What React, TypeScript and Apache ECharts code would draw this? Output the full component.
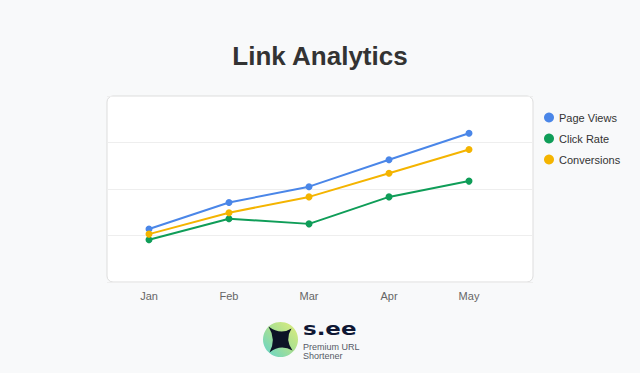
import React, { useEffect, useRef } from "react";
import * as echarts from "echarts";

const categories = ["Jan", "Feb", "Mar", "Apr", "May"];
const pageViews = [114, 171, 205, 263, 320];
const clickRate = [91, 136, 125, 183, 217];
const conversions = [103, 149, 183, 234, 285];
const seriesNames = ["Page Views", "Click Rate", "Conversions"];
const colors = ["#4a86e8", "#0f9d58", "#f4b400"];

echarts.graphic.registerShape(
  "seeStar",
  echarts.graphic.extendPath(
    "M -12 -13 Q 0 -4 11 -11 Q 4 0 12 11 Q 0 4 -11 13 Q -4 0 -12 -13 Z",
    {}
  )
);

export default function App() {
  const ref = useRef<HTMLDivElement>(null);
  useEffect(() => {
    const chart = echarts.init(ref.current!, null, { renderer: "svg" });
    const font = "'Liberation Sans', Arial, Helvetica, sans-serif";
    chart.setOption({
      animation: false,
      backgroundColor: "#f8f9fa",
      textStyle: { fontFamily: font },
      title: {
        text: "Link Analytics",
        left: "center",
        top: 38,
        textStyle: { fontSize: 26, fontWeight: "bold", color: "#333333", fontFamily: font },
      },
      legend: {
        orient: "vertical",
        left: 539,
        top: 107,
        icon: "circle",
        itemWidth: 10,
        itemHeight: 10,
        itemGap: 10,
        textStyle: { fontSize: 11, color: "#333333" },
        data: seriesNames,
      },
      grid: [
        { left: 109, right: 131, top: 96, bottom: 91 },
        { left: 107, right: 107, top: 96, bottom: 91 },
      ],
      xAxis: [
        {
          type: "category",
          gridIndex: 0,
          data: categories,
          boundaryGap: true,
          axisLine: { show: false },
          axisTick: { show: false },
          axisLabel: { color: "#666666", fontSize: 11, margin: 8 },
        },
        {
          type: "value",
          gridIndex: 1,
          show: false,
          min: 0,
          max: 1,
          splitLine: { show: false },
        },
      ],
      yAxis: [
        {
          type: "value",
          gridIndex: 0,
          min: 0,
          max: 400,
          interval: 100,
          axisLabel: { show: false },
          axisLine: { show: false },
          axisTick: { show: false },
          splitLine: { show: false },
        },
        {
          type: "value",
          gridIndex: 1,
          min: 0,
          max: 400,
          interval: 100,
          axisLabel: { show: false },
          axisLine: { show: false },
          axisTick: { show: false },
          splitLine: { lineStyle: { color: "#eeeeee", width: 1 } },
        },
      ],
      graphic: [
        {
          type: "rect",
          z: -10,
          silent: true,
          shape: { x: 107, y: 96, width: 426, height: 186, r: 6 },
          style: { fill: "#ffffff", stroke: "#dddddd", lineWidth: 1 },
        },
        {
          type: "group",
          left: 263,
          top: 322,
          children: [
            {
              type: "circle",
              shape: { cx: 17, cy: 18.5, r: 17.5 },
              style: {
                fill: new echarts.graphic.LinearGradient(1, 0, 0, 1, [
                  { offset: 0, color: "#e2ee7a" },
                  { offset: 0.5, color: "#a6df93" },
                  { offset: 1, color: "#5fd3cf" },
                ]),
              },
            },
            {
              type: "seeStar",
              x: 17,
              y: 18.5,
              scaleX: 1,
              scaleY: 1,
              style: { fill: "#0d1326" },
            },
          ],
        },
        {
          type: "text",
          x: 303,
          y: 329,
          scaleX: 1.35,
          style: {
            text: "s.ee",
            font: "900 17px 'DejaVu Sans', sans-serif",
            verticalAlign: "middle",
            fill: "#0f1733",
          },
        },
        {
          type: "text",
          x: 303,
          y: 342,
          style: {
            text: "Premium URL\nShortener",
            font: "9px 'Liberation Sans', Arial, sans-serif",
            lineHeight: 9,
            fill: "#555a66",
          },
        },
      ],
      series: [
        { name: seriesNames[0], data: pageViews },
        { name: seriesNames[1], data: clickRate },
        { name: seriesNames[2], data: conversions },
      ].map((s, i) => ({
        ...s,
        type: "line",
        xAxisIndex: 0,
        yAxisIndex: 0,
        symbol: "circle",
        symbolSize: 7,
        color: colors[i],
        lineStyle: { width: 2, color: colors[i] },
        itemStyle: { color: colors[i] },
      })),
    });
    return () => chart.dispose();
  }, []);
  return (
    <div
      ref={ref}
      style={{ position: "absolute", left: 0, top: 0, width: 640, height: 373 }}
    />
  );
}
